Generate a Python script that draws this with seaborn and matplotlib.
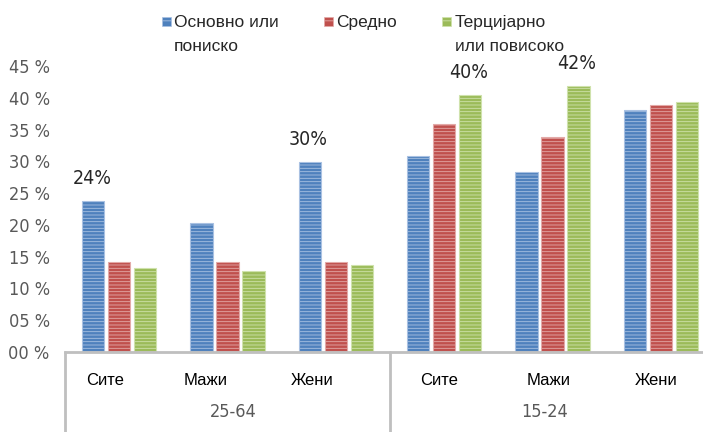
import pandas as pd
import seaborn as sns
import matplotlib.pyplot as plt
import matplotlib.transforms as mtransforms
from matplotlib.patches import Rectangle
from matplotlib.legend_handler import HandlerPatch

# data (percent)
groups = ["25-64", "25-64", "25-64", "15-24", "15-24", "15-24"]
cats = ["Сите", "Мажи", "Жени", "Сите", "Мажи", "Жени"]
levels = ["Основно или\nпониско", "Средно", "Терцијарно\nили повисоко"]
basic = [23.8, 20.3, 29.9, 30.9, 28.3, 38.1]
middle = [14.1, 14.1, 14.1, 35.8, 33.8, 38.9]
tertiary = [13.2, 12.7, 13.7, 40.4, 41.8, 39.3]
yticks = [0, 5, 10, 15, 20, 25, 30, 35, 40, 45]
# bars that carry a value label: (category index, level index)
labelled = [(0, 0), (2, 0), (3, 2), (4, 2)]

colors = ["#4F81BD", "#C0504D", "#9BBB59"]
edges = ["#A9C1E2", "#E3AAA8", "#CFE2AC"]
# excel places the category labels a little left of the bar groups (px)
label_shift = [-14, -22, -24, -5, -4, -5]

keys = [g + "|" + c for g, c in zip(groups, cats)]
rows = []
for lvl, vals in zip(levels, [basic, middle, tertiary]):
    for k, v in zip(keys, vals):
        rows.append({"key": k, "level": lvl, "value": v})
df = pd.DataFrame(rows)

sns.set_style("white")
plt.rcParams["font.family"] = ["Liberation Sans", "DejaVu Sans"]
plt.rcParams["hatch.linewidth"] = 0.6
narrow = dict(family="DejaVu Sans", stretch="condensed")

fig = plt.figure(figsize=(7.03, 4.32), dpi=100)
ax = fig.add_axes([65 / 703, 1 - 352 / 432, 650 / 703, 286 / 432])

sns.barplot(data=df, x="key", y="value", hue="level", order=keys,
            hue_order=levels, palette=colors, width=0.72, gap=0.15,
            saturation=1, ax=ax, legend=False)

for cont, ec in zip(ax.containers, edges):
    for bar in cont:
        bar.set_hatch("-----")
        bar.set_edgecolor(ec)
        bar.set_linewidth(0.8)

# value labels
for ci, li in labelled:
    bar = ax.containers[li][ci]
    v = bar.get_height()
    ax.annotate(f"{round(v)}%", (bar.get_x() + bar.get_width() / 2, v),
                xytext=(-1, 9.5), textcoords="offset points", ha="center",
                va="bottom", fontsize=14, color="#262626", **narrow)

ax.set_ylim(0, 45)
ax.set_xlim(-0.5, 5.5)
ax.set_yticks(yticks)
ax.set_yticklabels([f"{v:02d} %" for v in yticks], fontsize=13,
                   color="#595959", **narrow)
ax.set_xticks(range(len(cats)))
ax.set_xticklabels(cats, fontsize=12, color="black")
ax.tick_params(axis="y", length=0, pad=11)
ax.tick_params(axis="x", length=0, pad=15)
for lab, dx in zip(ax.get_xticklabels(), label_shift):
    lab.set_transform(lab.get_transform() +
                      mtransforms.ScaledTranslation(dx / 100, 0, fig.dpi_scale_trans))
ax.set_xlabel("")
ax.set_ylabel("")
for s in ["left", "right", "top"]:
    ax.spines[s].set_visible(False)
ax.spines["bottom"].set_color("#BFBFBF")
ax.spines["bottom"].set_linewidth(2)

# group labels and dividers under the axis
trans = ax.get_xaxis_transform()
for x0, g in [(1.05, "25-64"), (3.93, "15-24")]:
    ax.text(x0, -60 / 286, g, transform=trans, ha="center", va="center",
            fontsize=13, color="#595959", **narrow)
for xd in [-0.5, 2.5, 5.5]:
    ax.plot([xd, xd], [0, -82 / 286], transform=trans, color="#BFBFBF",
            lw=2, clip_on=False)


class TopSquare(HandlerPatch):
    def create_artists(self, legend, orig_handle, xdescent, ydescent,
                       width, height, fontsize, trans):
        s = 6.5
        p = Rectangle((-xdescent, -ydescent + height - s + 8), s, s)
        self.update_prop(p, orig_handle, legend)
        p.set_transform(trans)
        return [p]


handles = [Rectangle((0, 0), 1, 1, facecolor=c, edgecolor=e, hatch="--",
                     linewidth=0.5) for c, e in zip(colors, edges)]
labs = [levels[0], levels[1] + "\n", levels[2]]
leg = fig.legend(handles, labs, loc="upper left", ncol=3,
                 bbox_to_anchor=(153 / 703, 1 - 6 / 432), frameon=False,
                 fontsize=12.5, handlelength=0.52, handleheight=0.7,
                 handletextpad=0.2, columnspacing=2.6, borderpad=0,
                 handler_map={Rectangle: TopSquare()})
for t in leg.get_texts():
    t.set_linespacing(1.75)

fig.savefig("out.png", dpi=100)
